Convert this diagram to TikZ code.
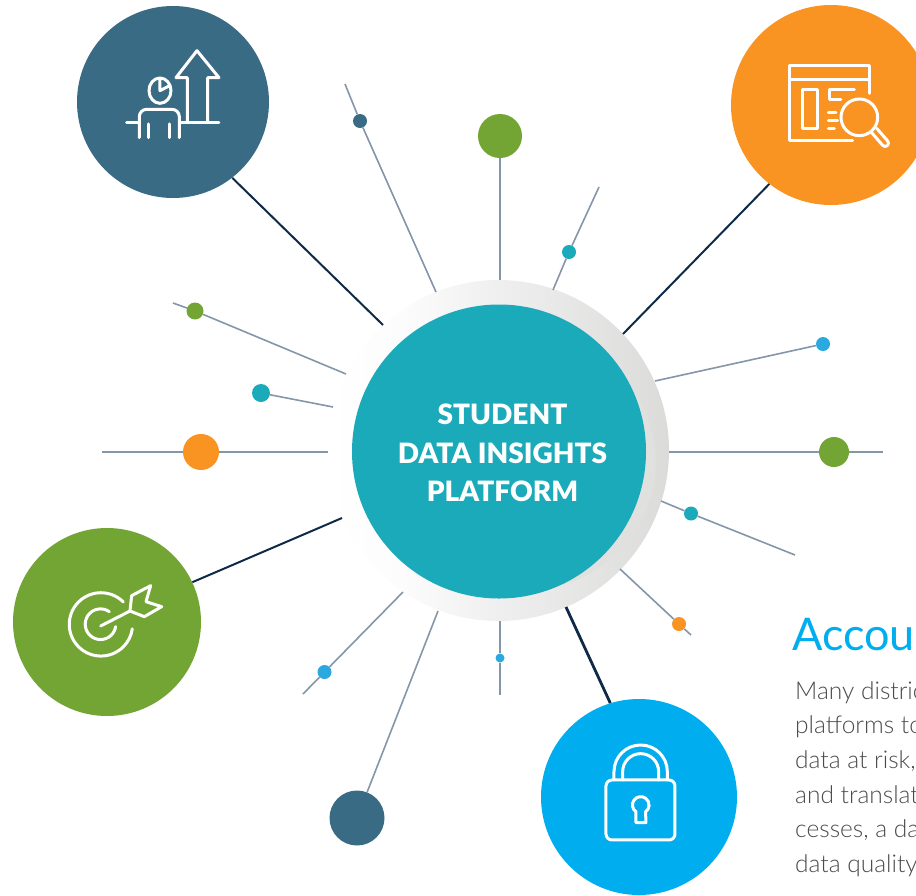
\documentclass[tikz,border=0pt]{standalone}
\usepackage{fontspec}
\setmainfont{Lato}
\newfontfamily\titlef{Lato}[UprightFont=* Black]
\newfontfamily\bodyf{Lato}[UprightFont=* Light]
\definecolor{deepblue}{HTML}{3A6B84}
\definecolor{orng}{HTML}{F99423}
\definecolor{grn}{HTML}{73A535}
\definecolor{sky}{HTML}{00AEEF}
\definecolor{teal}{HTML}{1BAAB9}
\definecolor{dotblue}{HTML}{29A9E0}
\definecolor{navy}{HTML}{0E2A47}
\definecolor{ray}{HTML}{8496A8}
\definecolor{bodytxt}{HTML}{4A4A4C}
\definecolor{ringnear}{HTML}{FCFCFC}
\definecolor{ringmid}{HTML}{EFEFEF}
\definecolor{ringright}{HTML}{DBDBDA}
\definecolor{crescent}{HTML}{E0E0DF}
\pgfdeclarehorizontalshading{ringshade}{100bp}{color(0bp)=(white); color(25bp)=(white); color(36bp)=(ringnear); color(50bp)=(ringmid); color(75bp)=(ringright); color(100bp)=(ringright)}
\tikzset{
 bigc/.style={circle,inner sep=0pt,minimum size=#1},
 dotc/.style={circle,inner sep=0pt,minimum size=#1},
 thinray/.style={draw=ray,line width=1.6pt},
 darkray/.style={draw=navy,line width=2pt},
 icon/.style={draw=white,line width=3pt,line cap=round,line join=round},
 bodyline/.style={anchor=base west,inner sep=0pt,text=bodytxt,font=\bodyf\fontsize{24.5}{24.5}\selectfont},
}
\begin{document}
\begin{tikzpicture}[x=1pt,y=-1pt]
\useasboundingbox (0,0) rectangle (916,895);
\clip (0,0) rectangle (916,895);
% hub
\node[bigc=341pt,shading=ringshade] (ring) at (498.5,450.5) {};
\node[bigc=256pt,fill=crescent] (shade) at (527.4,461.8) {};
\node[bigc=294pt,fill=teal] (hub) at (499,451.5) {};
\node[font=\titlef\fontsize{28}{38.5}\selectfont,text=white,align=center,inner sep=0pt] (hubt) at (502.5,453) {STUDENT\\DATA INSIGHTS\\PLATFORM};
% big circles
\node[bigc=192pt,fill=deepblue] (ia) at (173,102) {};
\node[bigc=200pt,fill=orng] (ib) at (831,105) {};
\node[bigc=188pt,fill=grn] (ic) at (107,622) {};
\node[bigc=196pt,fill=sky] (id) at (639,797) {};
% dots
\node[dotc=14pt,fill=deepblue] (d2) at (360,121) {};
\node[dotc=44pt,fill=grn] (d3) at (500,136) {};
\node[dotc=14pt,fill=teal] (d4) at (569,252) {};
\node[dotc=14pt,fill=dotblue] (d6) at (823,344) {};
\node[dotc=30pt,fill=grn] (d7) at (834,452) {};
\node[dotc=14pt,fill=teal] (d8) at (691,513.5) {};
\node[dotc=14pt,fill=orng] (d9) at (679,624) {};
\node[dotc=9pt,fill=dotblue] (d11) at (500,658) {};
\node[dotc=55pt,fill=deepblue] (d12) at (357,818) {};
\node[dotc=14pt,fill=dotblue] (d13) at (324.5,672) {};
\node[dotc=36pt,fill=orng] (d15) at (201,452) {};
\node[dotc=18pt,fill=teal] (d16) at (261,393) {};
\node[dotc=17pt,fill=grn] (d17) at (195,311) {};
% free ends
\coordinate (a1) at (383,325);
\coordinate (a2) at (436,292); \coordinate (b2) at (345,84);
\coordinate (a3) at (500,280);
\coordinate (a4) at (553,290); \coordinate (b4) at (599,187);
\coordinate (a5) at (623,334);
\coordinate (a6) at (655,381);
\coordinate (a7) at (669,452); \coordinate (b7) at (883,452);
\coordinate (a8) at (661,501); \coordinate (b8) at (795,555);
\coordinate (a9) at (620,569); \coordinate (b9) at (691,635);
\coordinate (a10) at (566,607);
\coordinate (a11) at (500,621); \coordinate (b11) at (500,695);
\coordinate (a12) at (438,611);
\coordinate (a13) at (403,592); \coordinate (b13) at (303,694);
\coordinate (a14) at (342,518);
\coordinate (a15) at (328,452); \coordinate (b15) at (102,452);
\coordinate (a16) at (333,407);
\coordinate (a17) at (346,374); \coordinate (b17) at (173,303);
% connectors
\draw[darkray] (ia.-52) -- (a1);
\draw[thinray] (a2) -- (d2); \draw[thinray] (d2) -- (b2);
\draw[thinray] (a3) -- (d3);
\draw[thinray] (a4) -- (d4); \draw[thinray] (d4) -- (b4);
\draw[darkray] (ib.232) -- (a5);
\draw[thinray] (a6) -- (d6);
\draw[thinray] (a7) -- (d7); \draw[thinray] (d7) -- (b7);
\draw[thinray] (a8) -- (d8); \draw[thinray] (d8) -- (b8);
\draw[thinray] (a9) -- (d9); \draw[thinray] (d9) -- (b9);
\draw[darkray,line width=2.8pt] (a10) -- (id.107);
\draw[thinray] (a11) -- (d11); \draw[thinray] (d11) -- (b11);
\draw[thinray] (a12) -- (d12);
\draw[thinray] (a13) -- (d13); \draw[thinray] (d13) -- (b13);
\draw[darkray] (a14) -- (ic.25);
\draw[thinray] (a15) -- (d15); \draw[thinray] (d15) -- (b15);
\draw[thinray] (a16) -- (d16);
\draw[thinray] (a17) -- (d17); \draw[thinray] (d17) -- (b17);
% icon A: person and arrow
\begin{scope}[shift={(70,0)},x=0.3333pt,y=-0.3333pt,icon]
 \draw (270,272) ellipse [x radius=33,y radius=38];
 \draw (270,237) -- (270,272) -- (297,258);
 \draw (208,413) -- (208,350) arc[start angle=180,end angle=270,radius=22] -- (306,328) arc[start angle=270,end angle=360,radius=22] -- (328,413);
 \draw (235,372) -- (235,413); \draw (300,372) -- (300,413);
 \draw (170,368) -- (208,368); \draw (330,368) -- (447,368);
 \draw (352,368) -- (352,233) -- (318,233) -- (381,152) -- (447,233) -- (413,233) -- (413,368);
\end{scope}
% icon B: window and magnifier
\begin{scope}[shift={(726,0)},x=0.3333pt,y=-0.3333pt,icon]
 \draw (380,423) -- (190,423) -- (190,198) -- (430,198) -- (430,280);
 \draw (190,240) -- (430,240);
 \draw (230,270) rectangle (275,385);
 \draw (385,270) -- (310,270) -- (310,300) -- (345,300);
 \draw (307,338) -- (330,338); \draw (307,361) -- (335,361); \draw (307,385) -- (325,385);
 \draw (400,352) circle [radius=55];
 \draw (437,398) -- (470,436) arc[start angle=139,end angle=-41,radius=10] -- (452,385);
\end{scope}
% icon C: target and dart
\begin{scope}[shift={(10,525)},x=0.3333pt,y=-0.3333pt,icon]
 \draw (340,231) arc[start angle=-45,end angle=-352,radius=95];
 \draw (298,260) arc[start angle=-55,end angle=-351,radius=46];
 \draw (272,303) -- (360,258);
 \draw (360,258) -- (403,275) -- (455,245) -- (408,230) -- (422,182) -- (365,212) -- cycle;
\end{scope}
% icon D: padlock
\begin{scope}[shift={(540,600)},x=0.3333pt,y=-0.3333pt,icon]
 \draw[rounded corners=6pt] (198,540) rectangle (405,720);
 \draw (222,540) -- (222,515) arc[start angle=180,end angle=360,radius=80] -- (382,540);
 \draw (248,540) -- (248,515) arc[start angle=180,end angle=360,radius=54] -- (356,540);
 \draw (288,635.5) arc[start angle=125,end angle=415,radius=25] -- (318,668) -- (288,668) -- cycle;
\end{scope}
% side text
\node[anchor=base west,inner sep=0pt,text=sky,font=\fontsize{45}{45}\selectfont] (h) at (792,650) {Accoun};
\node[bodyline] (l1) at (795,699) {Many distric};
\node[bodyline] (l2) at (795,733) {platforms to};
\node[bodyline] (l3) at (795,768) {data at risk,};
\node[bodyline] (l4) at (795,803) {and translat};
\node[bodyline] (l5) at (795,837) {cesses, a da};
\node[bodyline] (l6) at (795,872) {data quality};
\end{tikzpicture}
\end{document}
